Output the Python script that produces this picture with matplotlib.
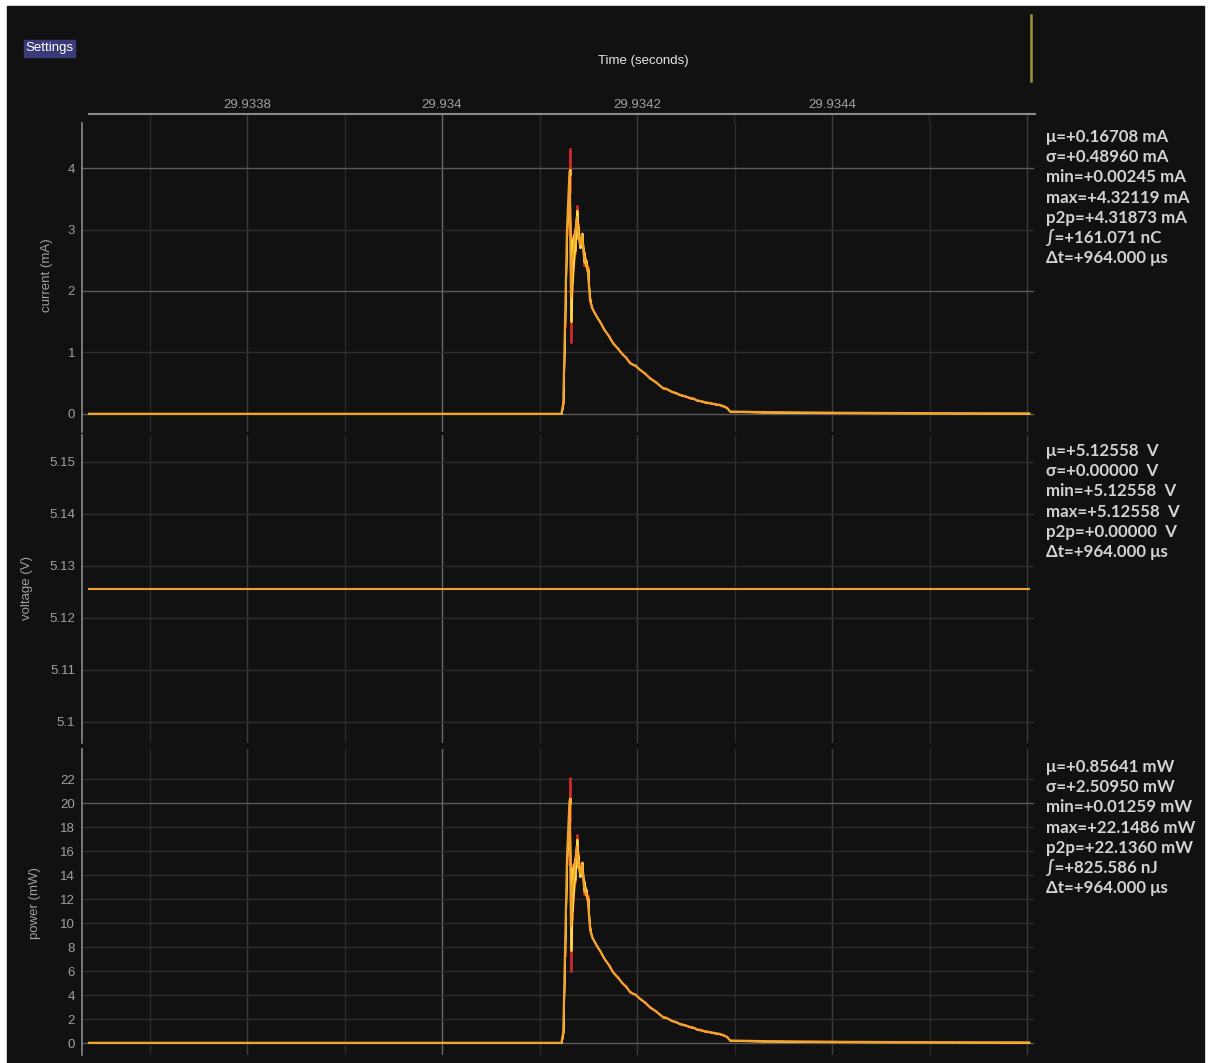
import numpy as np
import matplotlib.pyplot as plt
from matplotlib.patches import Rectangle
from matplotlib.lines import Line2D
from matplotlib.ticker import FuncFormatter

W, H = 1210, 1063

# capture window: offsets in microseconds from 29.9340 s
t_base = 29.934
t_us = [-362, 122.5, 124.4, 126.2, 128.2, 130.8, 132.3, 133.8, 136.2, 138.2,
        139.8, 141.5, 143.6, 145.6, 147.7, 149.7, 151.8, 154.0, 158.7, 162.0,
        166.5, 171.0, 175.4, 180.0, 184.6, 188.5, 192.8, 196.0, 198.0, 203.0,
        208.0, 213.3, 219.0, 226.7, 230.0, 235.9, 240.0, 244.1, 249.0, 254.4,
        258.0, 261.5, 265.5, 269.7, 274.0, 280.0, 284.0, 288.2, 292.3, 295.4,
        330, 360, 400, 460, 530, 602]

# current (mA): mean, min, max and std per display column
cur_mean = [0.003, 0.003, 0.18, 1.50, 3.00, 3.94, 1.90, 2.50, 2.85, 3.20,
            2.95, 2.75, 2.90, 2.55, 2.45, 2.30, 1.85, 1.72, 1.58, 1.50,
            1.37, 1.27, 1.15, 1.07, 0.98, 0.92, 0.83, 0.80, 0.79, 0.72,
            0.66, 0.58, 0.52, 0.42, 0.41, 0.36, 0.34, 0.31, 0.29, 0.26,
            0.25, 0.22, 0.21, 0.19, 0.18, 0.16, 0.15, 0.13, 0.10, 0.04,
            0.030, 0.025, 0.020, 0.015, 0.012, 0.010]
cur_min = [0.002, 0.002, 0.15, 1.40, 2.90, 3.60, 1.15, 2.00, 2.60, 2.95,
           2.85, 2.70, 2.80, 2.40, 2.40, 2.20, 1.82, 1.71, 1.57, 1.49,
           1.36, 1.26, 1.14, 1.06, 0.97, 0.91, 0.82, 0.79, 0.78, 0.71,
           0.65, 0.57, 0.51, 0.41, 0.40, 0.35, 0.33, 0.30, 0.28, 0.25,
           0.24, 0.21, 0.20, 0.18, 0.17, 0.15, 0.14, 0.12, 0.09, 0.03,
           0.020, 0.015, 0.010, 0.008, 0.005, 0.002]
cur_max = [0.005, 0.005, 0.22, 1.60, 3.10, 4.32119, 2.90, 2.90, 3.00, 3.40,
           3.10, 2.85, 2.95, 2.65, 2.50, 2.40, 1.90, 1.735, 1.595, 1.515,
           1.385, 1.285, 1.165, 1.085, 0.995, 0.935, 0.845, 0.815, 0.805, 0.735,
           0.675, 0.595, 0.535, 0.435, 0.425, 0.375, 0.355, 0.325, 0.305, 0.275,
           0.265, 0.235, 0.225, 0.205, 0.195, 0.175, 0.165, 0.145, 0.115, 0.05,
           0.045, 0.040, 0.035, 0.025, 0.022, 0.018]
cur_std = [0, 0, 0, 0, 0, 0.05, 0.40, 0.35, 0.20, 0.12,
           0.10, 0.06, 0.08, 0.08, 0.05, 0.05, 0.02, 0, 0, 0,
           0, 0, 0, 0, 0, 0, 0, 0, 0, 0,
           0, 0, 0, 0, 0, 0, 0, 0, 0, 0,
           0, 0, 0, 0, 0, 0, 0, 0, 0, 0,
           0.006, 0.006, 0.005, 0.004, 0.004, 0.004]

volt = 5.12558  # bus voltage (V), constant over the window

cur_stats = ["μ=+0.16708 mA", "σ=+0.48960 mA", "min=+0.00245 mA",
             "max=+4.32119 mA", "p2p=+4.31873 mA", "∫=+161.071 nC",
             "Δt=+964.000 μs"]
volt_stats = ["μ=+5.12558  V", "σ=+0.00000  V", "min=+5.12558  V",
              "max=+5.12558  V", "p2p=+0.00000  V", "Δt=+964.000 μs"]
pow_stats = ["μ=+0.85641 mW", "σ=+2.50950 mW", "min=+0.01259 mW",
             "max=+22.1486 mW", "p2p=+22.1360 mW", "∫=+825.586 nJ",
             "Δt=+964.000 μs"]

t = t_base + np.array(t_us) * 1e-6
cm = np.array(cur_mean)
cl = np.array(cur_min)
ch = np.array(cur_max)
cs = np.array(cur_std)

BG = "#111111"
TXT = "#a0a0a0"
MEAN_C = "#f0a32c"
MINMAX_C = "#cc2a2a"
STD_C = "#ffe23a"

# pixel -> time mapping (975000 px per second, 29.934 at x=442)
def px2t(x):
    return t_base + (x - 442) / 975000.0

fig = plt.figure(figsize=(W / 100, H / 100), dpi=100, facecolor="white")
fig.patches.append(Rectangle((7 / W, 0), (1204 - 7) / W, 1 - 6 / H,
                             transform=fig.transFigure, color=BG, zorder=-10))


def fy(y):
    return 1 - y / H


def axes_box(top, bottom, left=82, right=1035):
    return [left / W, fy(bottom), (right - left) / W, (bottom - top) / H]


def vgrid(ax):
    for k in range(-3, 7):
        tv = t_base + k * 1e-4
        if k == 0:
            c = "#6a6a6a"
        elif k % 2 == 0:
            c = "#3c3c3c"
        else:
            c = "#2a2a2a"
        ax.axvline(tv, color=c, lw=1.0, zorder=0)


def style_axis(ax, ylim, ticks, labels, major):
    ax.set_facecolor(BG)
    ax.patch.set_alpha(0)
    ax.set_xlim(px2t(82), px2t(1035))
    ax.set_ylim(*ylim)
    for s in ["top", "right", "bottom"]:
        ax.spines[s].set_visible(False)
    ax.spines["left"].set_color("#8a8a8a")
    ax.spines["left"].set_linewidth(1.2)
    ax.set_xticks([])
    ax.set_yticks(ticks)
    ax.set_yticklabels(labels, family="Liberation Sans", fontsize=9.5, color=TXT)
    ax.tick_params(axis="y", length=0, pad=5)
    vgrid(ax)
    for v in ticks:
        c = "#5a5a5a" if v in major else "#2e2e2e"
        ax.add_line(Line2D([px2t(82), px2t(1033)], [v, v], color=c, lw=1.0, zorder=0))


def draw_trace(ax, mean, lo, hi, std):
    # min/max envelope, std band, then the mean
    ax.fill_between(t, lo, hi, color=MINMAX_C, lw=0.6, edgecolor=MINMAX_C, zorder=2)
    ax.vlines(t, lo, hi, color=MINMAX_C, lw=2.0, zorder=2)
    s_lo = np.maximum(mean - std, lo)
    s_hi = np.minimum(mean + std, hi)
    ax.fill_between(t, s_lo, s_hi, color=STD_C, lw=0.8, edgecolor=STD_C, zorder=3)
    ax.vlines(t, s_lo, s_hi, color=STD_C, lw=1.8, zorder=3)
    ax.plot(t, mean, color=MEAN_C, lw=1.6, zorder=4)


# current
ax1 = fig.add_axes(axes_box(123, 432))
style_axis(ax1, (-0.293, 4.732), [0, 1, 2, 3, 4], ["0", "1", "2", "3", "4"], [0, 2, 4])
draw_trace(ax1, cm, cl, ch, cs)

# voltage
ax2 = fig.add_axes(axes_box(435, 743))
vt = [5.10, 5.11, 5.12, 5.13, 5.14, 5.15]
style_axis(ax2, (5.09596, 5.15519), vt, ["5.1", "5.11", "5.12", "5.13", "5.14", "5.15"], [])
ax2.plot(t, np.full(len(t), volt), color=MEAN_C, lw=1.5, zorder=4)

# power = current * voltage
ax3 = fig.add_axes(axes_box(749, 1055))
pt = list(range(0, 23, 2))
style_axis(ax3, (-1.0, 24.5), pt, [str(v) for v in pt], [0, 20])
draw_trace(ax3, cm * volt, cl * volt, ch * volt, cs * volt)

# shared time axis across the top
axt = fig.add_axes([89 / W, fy(123), (1035 - 89) / W, 9 / H])
axt.patch.set_alpha(0)
axt.set_xlim(px2t(89), px2t(1035))
axt.set_ylim(0, 1)
for s in ["left", "right", "bottom"]:
    axt.spines[s].set_visible(False)
axt.spines["top"].set_color("#8a8a8a")
axt.spines["top"].set_linewidth(1.5)
axt.set_yticks([])
axt.xaxis.tick_top()
axt.set_xticks([29.9338, 29.934, 29.9342, 29.9344])
axt.xaxis.set_major_formatter(FuncFormatter(lambda v, p: f"{v:.4f}".rstrip("0")))
axt.tick_params(axis="x", length=0, pad=2, colors=TXT, labelsize=9.5)
for lb in axt.get_xticklabels():
    lb.set_family("Liberation Sans")
vgrid(axt)

fig.text(643 / W, fy(61), "Time (seconds)", ha="center", va="center",
         family="Liberation Sans", fontsize=9.5, color="#e6e6e6")

# axis titles
fig.text(47 / W, fy(275), "current (mA)", rotation=90, ha="center", va="center",
         family="Liberation Sans", fontsize=9.5, color=TXT)
fig.text(27 / W, fy(588), "voltage (V)", rotation=90, ha="center", va="center",
         family="Liberation Sans", fontsize=9.5, color=TXT)
fig.text(35 / W, fy(903), "power (mW)", rotation=90, ha="center", va="center",
         family="Liberation Sans", fontsize=9.5, color=TXT)

# statistics columns
for lines, y0 in [(cur_stats, 137), (volt_stats, 451), (pow_stats, 767)]:
    for i, s in enumerate(lines):
        fig.text(1046 / W, fy(y0 + i * 20.2), s, ha="left", va="center",
                 family=["Lato", "DejaVu Sans"], fontweight="bold",
                 fontsize=12.2, color="#d2d2d2")

# settings button and marker
fig.patches.append(Rectangle((24 / W, fy(57)), 51 / W, 17 / H,
                             transform=fig.transFigure, color="#3a3a78", zorder=1))
fig.text(49.5 / W, fy(48.5), "Settings", ha="center", va="center",
         family="Liberation Sans", fontsize=9.5, color="white", zorder=2)
fig.add_artist(Line2D([1031 / W, 1031 / W], [fy(15), fy(81)],
                      transform=fig.transFigure, color="#9a943c", lw=1.8))

fig.savefig("out.png", dpi=100, facecolor="white")
